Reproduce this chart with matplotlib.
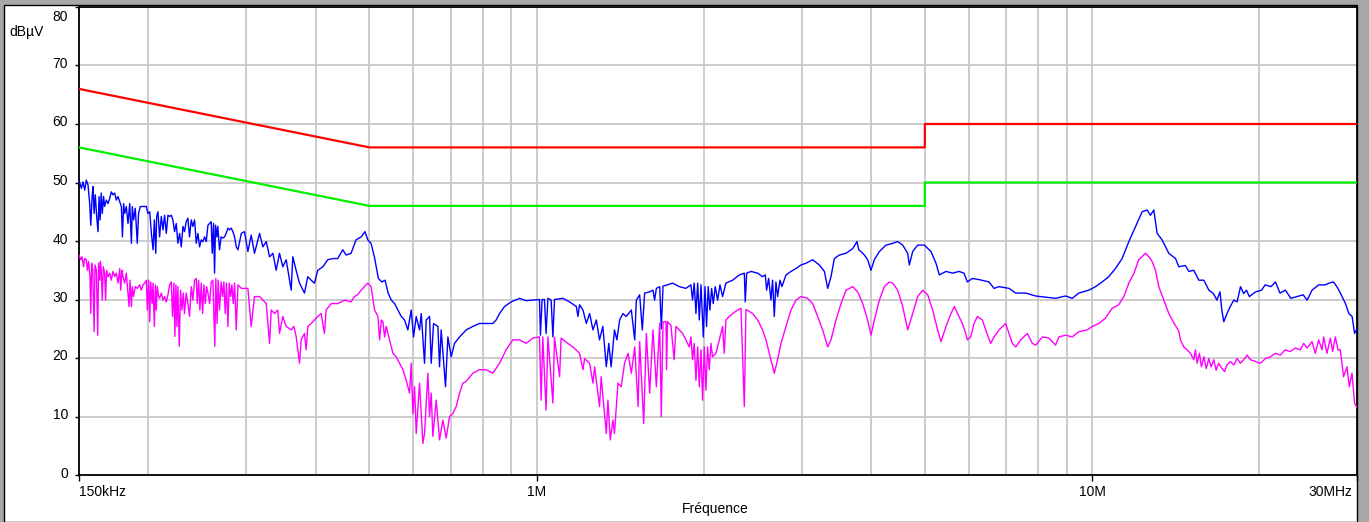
import matplotlib
matplotlib.use('Agg')
from matplotlib import pyplot as plt
import matplotlib.transforms as mtransforms
from matplotlib.patches import Rectangle

plt.rcParams['font.family'] = ['Liberation Sans', 'DejaVu Sans']
plt.rcParams['font.size'] = 10

# limit lines (MHz, dBuV)
lim_f = [0.15, 0.5, 5, 5, 30]
qp_lim = [66, 56, 56, 60, 60]
av_lim = [56, 46, 46, 50, 50]

# blue trace (MHz, dBuV)
blue_f = [0.1500, 0.1515, 0.1525, 0.1536, 0.1546, 0.1557, 0.1568, 0.1575, 0.1584, 0.1590,
          0.1597, 0.1605, 0.1614, 0.1623, 0.1630, 0.1637, 0.1645, 0.1652, 0.1661, 0.1668,
          0.1680, 0.1692, 0.1704, 0.1715, 0.1727, 0.1739, 0.1751, 0.1763, 0.1776, 0.1788,
          0.1796, 0.1805, 0.1813, 0.1825, 0.1838, 0.1851, 0.1864, 0.1871, 0.1881, 0.1894,
          0.1910, 0.1920, 0.1934, 0.1956, 0.1983, 0.1996, 0.2011, 0.2025, 0.2039, 0.2050,
          0.2062, 0.2070, 0.2081, 0.2095, 0.2110, 0.2125, 0.2139, 0.2154, 0.2169, 0.2184,
          0.2199, 0.2214, 0.2229, 0.2245, 0.2260, 0.2276, 0.2292, 0.2308, 0.2323, 0.2340,
          0.2356, 0.2372, 0.2389, 0.2405, 0.2422, 0.2439, 0.2456, 0.2473, 0.2490, 0.2507,
          0.2525, 0.2542, 0.2560, 0.2578, 0.2595, 0.2606, 0.2620, 0.2631, 0.2642, 0.2656,
          0.2667, 0.2686, 0.2704, 0.2723, 0.2742, 0.2761, 0.2781, 0.2800, 0.2820, 0.2839,
          0.2859, 0.2879, 0.2899, 0.2940, 0.2979, 0.3021, 0.3063, 0.3105, 0.3171, 0.3215,
          0.3260, 0.3305, 0.3351, 0.3397, 0.3444, 0.3492, 0.3541, 0.3615, 0.3640, 0.3690,
          0.3742, 0.3820, 0.3873, 0.3927, 0.3982, 0.4037, 0.4122, 0.4208, 0.4297, 0.4385,
          0.4477, 0.4540, 0.4634, 0.4730, 0.4831, 0.4909, 0.4966, 0.5034, 0.5104, 0.5190,
          0.5262, 0.5335, 0.5404, 0.5474, 0.5550, 0.5627, 0.5705, 0.5784, 0.5864, 0.5946,
          0.6004, 0.6071, 0.6155, 0.6198, 0.6284, 0.6328, 0.6416, 0.6460, 0.6523, 0.6641,
          0.6687, 0.6733, 0.6855, 0.6922, 0.7018, 0.7116, 0.7265, 0.7468, 0.7678, 0.7893,
          0.8114, 0.8341, 0.8457, 0.8575, 0.8754, 0.9000, 0.9315, 0.9576, 0.9845, 1.012,
          1.016, 1.023, 1.033, 1.040, 1.048, 1.062, 1.070, 1.077, 1.115, 1.146,
          1.179, 1.187, 1.195, 1.212, 1.229, 1.246, 1.263, 1.281, 1.298, 1.316,
          1.335, 1.349, 1.362, 1.381, 1.395, 1.411, 1.430, 1.450, 1.481, 1.502,
          1.512, 1.533, 1.550, 1.565, 1.598, 1.620, 1.631, 1.643, 1.666, 1.677,
          1.689, 1.720, 1.757, 1.807, 1.857, 1.896, 1.909, 1.922, 1.936, 1.950,
          1.963, 1.977, 1.996, 2.010, 2.023, 2.037, 2.051, 2.066, 2.080, 2.097,
          2.118, 2.139, 2.162, 2.192, 2.254, 2.317, 2.366, 2.375, 2.389, 2.432,
          2.500, 2.552, 2.581, 2.595, 2.617, 2.642, 2.660, 2.679, 2.697, 2.716,
          2.743, 2.765, 2.812, 2.871, 2.931, 2.992, 3.055, 3.141, 3.229, 3.297,
          3.343, 3.389, 3.436, 3.508, 3.607, 3.708, 3.775, 3.802, 3.838, 3.892,
          3.945, 4.000, 4.056, 4.141, 4.257, 4.377, 4.468, 4.562, 4.657, 4.689,
          4.755, 4.854, 4.990, 5.130, 5.237, 5.310, 5.459, 5.612, 5.763, 5.883,
          5.965, 6.090, 6.261, 6.525, 6.662, 6.801, 7.089, 7.288, 7.596, 7.917,
          8.252, 8.598, 8.962, 9.213, 9.471, 9.873, 10.15, 10.43, 10.72, 11.02,
          11.33, 11.65, 11.98, 12.31, 12.57, 12.74, 12.92, 13.10, 13.37, 13.75,
          14.14, 14.33, 14.73, 14.94, 15.25, 15.57, 15.90, 16.23, 16.55, 16.78,
          17.00, 17.13, 17.27, 17.50, 17.74, 18.00, 18.25, 18.51, 18.75, 18.97,
          19.20, 19.70, 20.20, 20.50, 21.00, 21.40, 21.80, 22.30, 22.80, 23.40,
          24.00, 24.40, 24.90, 25.60, 26.30, 26.70, 27.20, 27.60, 28.00, 28.60,
          29.00, 29.40, 29.70, 30.0]
blue_v = [50.4, 49.0, 50.1, 48.7, 50.4, 49.6, 46.4, 42.7, 47.6, 49.3,
          44.7, 47.9, 44.2, 41.6, 47.6, 43.6, 48.2, 44.7, 47.6, 45.9,
          47.0, 46.4, 47.3, 48.4, 47.9, 48.2, 47.0, 47.6, 46.7, 45.9,
          40.7, 46.4, 44.7, 45.9, 43.0, 46.4, 39.6, 45.9, 43.6, 45.6,
          39.6, 44.7, 45.9, 45.9, 45.9, 44.7, 45.0, 41.3, 38.5, 43.6,
          37.9, 44.2, 45.0, 40.7, 44.2, 41.9, 44.4, 41.3, 44.4, 44.2,
          44.4, 43.6, 41.6, 43.0, 39.6, 41.3, 39.0, 42.5, 41.6, 43.3,
          43.9, 40.7, 43.6, 42.5, 43.6, 39.6, 41.3, 39.0, 40.2, 39.9,
          40.7, 39.9, 42.7, 43.0, 43.3, 37.9, 43.0, 34.5, 42.7, 40.7,
          42.5, 38.5, 40.7, 40.5, 40.7, 41.3, 42.2, 41.9, 42.2, 41.6,
          40.7, 39.0, 38.5, 41.3, 41.6, 38.2, 41.0, 37.9, 41.3, 39.0,
          39.9, 37.3, 37.9, 35.0, 37.9, 35.6, 36.8, 31.6, 37.3, 35.0,
          32.8, 31.1, 33.9, 33.3, 32.8, 35.0, 35.6, 36.8, 37.0, 37.0,
          38.5, 37.6, 37.9, 40.2, 40.7, 41.6, 40.2, 39.6, 37.3, 33.6,
          33.0, 33.3, 31.1, 29.9, 29.3, 28.2, 27.1, 26.5, 24.8, 28.2,
          23.6, 27.1, 24.8, 27.6, 19.1, 26.5, 27.1, 19.1, 25.9, 25.4,
          18.5, 24.8, 15.1, 23.6, 20.2, 22.5, 23.6, 24.8, 25.4, 25.9,
          25.9, 25.9, 26.5, 27.6, 28.8, 29.6, 30.2, 29.8, 29.9, 30.0,
          23.9, 30.0, 30.0, 24.2, 30.2, 29.9, 23.6, 30.0, 30.2, 29.6,
          28.8, 27.1, 29.1, 28.2, 25.9, 27.6, 24.8, 26.5, 23.1, 25.4,
          18.5, 22.5, 18.5, 24.8, 23.1, 26.5, 27.6, 27.1, 28.2, 23.1,
          29.9, 30.8, 24.8, 31.1, 31.3, 31.6, 29.9, 31.9, 32.2, 25.0,
          32.3, 32.5, 32.8, 32.2, 31.9, 32.5, 29.9, 32.8, 27.6, 32.8,
          26.5, 32.5, 23.6, 32.2, 25.4, 32.2, 28.2, 31.9, 29.3, 32.2,
          29.9, 32.5, 30.5, 32.8, 33.3, 34.2, 34.5, 29.6, 34.5, 34.8,
          34.5, 33.9, 34.2, 31.6, 33.6, 29.9, 33.3, 27.1, 33.0, 30.5,
          33.3, 32.2, 34.2, 34.8, 35.3, 35.9, 36.2, 36.8, 35.9, 34.8,
          31.9, 33.9, 37.0, 37.6, 37.9, 38.7, 39.9, 38.5, 38.2, 37.6,
          36.8, 35.0, 36.8, 38.2, 39.3, 39.6, 39.9, 39.3, 37.9, 35.9,
          38.2, 39.3, 39.3, 38.2, 36.2, 34.2, 34.8, 34.5, 34.8, 34.5,
          33.0, 33.6, 33.4, 33.0, 31.9, 32.2, 31.9, 31.1, 31.1, 30.6,
          30.4, 30.2, 30.6, 30.2, 31.1, 31.6, 32.2, 33.0, 33.9, 35.3,
          37.0, 39.9, 42.5, 45.0, 45.3, 44.4, 45.3, 41.3, 40.2, 37.9,
          37.0, 35.6, 35.8, 34.8, 35.0, 33.3, 33.3, 31.6, 31.0, 29.9,
          31.3, 28.2, 26.2, 27.6, 28.8, 29.9, 29.6, 32.2, 31.0, 31.6,
          30.5, 31.3, 31.6, 32.5, 32.2, 33.0, 31.1, 31.6, 30.2, 30.5,
          30.8, 29.9, 31.6, 32.5, 32.5, 32.8, 33.0, 32.2, 31.1, 29.3,
          27.6, 27.1, 24.2, 25.0]

# magenta trace (MHz, dBuV)
pink_f = [0.1500, 0.1511, 0.1519, 0.1528, 0.1536, 0.1546, 0.1553, 0.1561, 0.1570, 0.1575,
          0.1581, 0.1588, 0.1597, 0.1603, 0.1612, 0.1621, 0.1627, 0.1635, 0.1639, 0.1645,
          0.1652, 0.1659, 0.1668, 0.1675, 0.1682, 0.1692, 0.1704, 0.1715, 0.1727, 0.1739,
          0.1751, 0.1763, 0.1776, 0.1783, 0.1793, 0.1800, 0.1813, 0.1825, 0.1838, 0.1846,
          0.1853, 0.1864, 0.1871, 0.1881, 0.1894, 0.1910, 0.1929, 0.1942, 0.1956, 0.1969,
          0.1983, 0.1991, 0.2002, 0.2011, 0.2019, 0.2031, 0.2039, 0.2050, 0.2059, 0.2067,
          0.2075, 0.2087, 0.2095, 0.2110, 0.2125, 0.2139, 0.2154, 0.2169, 0.2184, 0.2199,
          0.2211, 0.2223, 0.2232, 0.2242, 0.2251, 0.2260, 0.2273, 0.2285, 0.2298, 0.2311,
          0.2323, 0.2340, 0.2356, 0.2372, 0.2389, 0.2405, 0.2422, 0.2439, 0.2449, 0.2463,
          0.2476, 0.2490, 0.2504, 0.2518, 0.2532, 0.2546, 0.2560, 0.2578, 0.2595, 0.2613,
          0.2623, 0.2634, 0.2645, 0.2659, 0.2670, 0.2686, 0.2704, 0.2720, 0.2735, 0.2750,
          0.2765, 0.2781, 0.2796, 0.2812, 0.2827, 0.2843, 0.2859, 0.2879, 0.2899, 0.2940,
          0.3021, 0.3063, 0.3105, 0.3171, 0.3215, 0.3260, 0.3305, 0.3328, 0.3374, 0.3420,
          0.3444, 0.3492, 0.3541, 0.3615, 0.3655, 0.3690, 0.3742, 0.3768, 0.3820, 0.3847,
          0.3873, 0.3927, 0.3982, 0.4037, 0.4093, 0.4150, 0.4179, 0.4267, 0.4385, 0.4446,
          0.4508, 0.4634, 0.4698, 0.4764, 0.4831, 0.4898, 0.4966, 0.5034, 0.5109, 0.5180,
          0.5216, 0.5252, 0.5288, 0.5325, 0.5362, 0.5399, 0.5474, 0.5512, 0.5588, 0.5666,
          0.5745, 0.5824, 0.5905, 0.5946, 0.5987, 0.6029, 0.6071, 0.6155, 0.6241, 0.6284,
          0.6372, 0.6416, 0.6460, 0.6505, 0.6595, 0.6687, 0.6780, 0.6874, 0.6970, 0.7067,
          0.7165, 0.7265, 0.7366, 0.7468, 0.7678, 0.7893, 0.8114, 0.8341, 0.8575, 0.8815,
          0.9062, 0.9315, 0.9576, 0.9845, 1.012, 1.019, 1.026, 1.040, 1.048, 1.070,
          1.077, 1.100, 1.107, 1.138, 1.162, 1.195, 1.212, 1.220, 1.246, 1.263,
          1.272, 1.298, 1.307, 1.335, 1.344, 1.357, 1.372, 1.381, 1.401, 1.420,
          1.440, 1.461, 1.481, 1.502, 1.523, 1.533, 1.559, 1.576, 1.598, 1.620,
          1.643, 1.666, 1.677, 1.689, 1.710, 1.714, 1.721, 1.745, 1.769, 1.782,
          1.807, 1.832, 1.857, 1.883, 1.896, 1.909, 1.922, 1.936, 1.950, 1.963,
          1.977, 1.990, 2.004, 2.018, 2.032, 2.046, 2.060, 2.074, 2.103, 2.133,
          2.162, 2.177, 2.192, 2.223, 2.254, 2.301, 2.333, 2.366, 2.382, 2.449,
          2.500, 2.552, 2.588, 2.624, 2.679, 2.716, 2.754, 2.812, 2.871, 2.931,
          2.992, 3.076, 3.141, 3.207, 3.274, 3.343, 3.389, 3.460, 3.533, 3.607,
          3.708, 3.785, 3.865, 3.945, 4.000, 4.056, 4.141, 4.228, 4.316, 4.377,
          4.468, 4.562, 4.657, 4.755, 4.854, 4.956, 5.060, 5.166, 5.273, 5.347,
          5.459, 5.573, 5.651, 5.761, 5.843, 5.924, 5.965, 6.048, 6.132, 6.218,
          6.347, 6.435, 6.570, 6.662, 6.801, 6.990, 7.089, 7.187, 7.288, 7.440,
          7.648, 7.808, 7.917, 8.139, 8.367, 8.598, 8.718, 8.962, 9.213, 9.471,
          9.804, 10.01, 10.29, 10.57, 10.87, 11.17, 11.41, 11.65, 11.90, 12.14,
          12.48, 12.66, 12.83, 13.01, 13.19, 13.47, 13.75, 14.04, 14.33, 14.43,
          14.63, 14.83, 15.04, 15.25, 15.35, 15.46, 15.61, 15.74, 15.90, 16.06,
          16.23, 16.39, 16.57, 16.73, 16.90, 17.14, 17.33, 17.49, 17.75, 18.00,
          18.25, 18.50, 18.76, 19.02, 19.29, 19.70, 20.10, 20.52, 20.95, 21.39,
          21.83, 22.28, 22.74, 23.24, 23.72, 24.05, 24.39, 24.90, 25.24, 25.59,
          25.95, 26.13, 26.49, 26.86, 27.12, 27.42, 27.73, 27.99, 28.38, 28.78,
          29.06, 29.38, 29.70, 30.0]
pink_v = [37.6, 36.8, 37.3, 35.6, 37.0, 36.8, 35.0, 36.5, 33.9, 27.6,
          36.2, 35.0, 24.5, 35.9, 35.0, 23.9, 36.2, 33.3, 36.5, 35.0,
          29.9, 35.6, 34.5, 29.9, 35.0, 33.9, 34.5, 33.3, 34.8, 33.9,
          34.5, 32.8, 35.3, 31.6, 35.0, 33.9, 32.8, 34.5, 31.1, 28.8,
          33.3, 28.8, 32.2, 30.5, 32.2, 31.9, 32.5, 31.6, 32.5, 32.8,
          33.3, 28.2, 33.3, 26.2, 33.0, 29.3, 32.8, 25.4, 32.5, 28.2,
          32.2, 30.5, 30.2, 31.1, 29.9, 30.5, 29.6, 30.8, 32.5, 33.0,
          27.1, 32.8, 23.7, 32.5, 25.4, 32.2, 22.0, 31.6, 28.2, 31.1,
          27.6, 31.1, 29.3, 27.1, 32.2, 29.9, 33.3, 33.6, 29.3, 33.3,
          28.2, 32.8, 27.6, 32.5, 29.3, 32.2, 31.1, 29.3, 33.0, 33.3,
          28.2, 22.0, 33.6, 25.9, 33.3, 28.2, 33.0, 30.5, 33.0, 27.6,
          32.8, 25.4, 32.8, 30.5, 32.5, 29.3, 32.8, 24.8, 32.5, 31.9,
          31.9, 25.4, 30.5, 30.5, 29.9, 29.3, 22.5, 28.2, 27.6, 28.2,
          24.2, 27.1, 25.4, 24.8, 25.4, 23.7, 19.1, 23.1, 24.2, 21.4,
          25.4, 25.9, 26.5, 27.1, 27.6, 24.2, 28.2, 29.3, 29.3, 29.6,
          29.9, 29.6, 30.5, 30.8, 31.6, 32.2, 32.8, 32.2, 28.2, 27.1,
          23.1, 26.5, 26.2, 23.6, 25.4, 24.2, 21.9, 20.8, 20.2, 19.1,
          18.0, 16.2, 14.0, 19.1, 10.5, 15.1, 7.1, 15.7, 5.4, 7.1,
          17.4, 10.0, 14.0, 6.6, 12.8, 6.0, 9.4, 6.3, 10.0, 10.5,
          11.7, 14.0, 15.7, 16.0, 17.4, 18.0, 18.0, 17.4, 19.1, 21.4,
          23.1, 23.1, 22.5, 23.4, 23.6, 12.8, 23.6, 11.1, 23.6, 12.3,
          23.5, 16.8, 23.4, 22.5, 21.9, 20.8, 18.0, 19.9, 19.1, 15.7,
          18.5, 11.7, 16.8, 7.1, 12.8, 6.0, 9.4, 7.1, 15.7, 15.1,
          19.1, 20.8, 17.4, 21.9, 11.7, 22.8, 8.8, 24.2, 14.0, 24.8,
          15.1, 25.9, 10.0, 26.2, 26.2, 18.0, 26.2, 25.6, 19.7, 25.4,
          24.8, 24.2, 23.1, 21.9, 23.6, 19.7, 22.5, 16.2, 21.9, 15.1,
          21.4, 12.8, 21.9, 14.5, 21.9, 18.0, 22.5, 20.2, 20.8, 23.1,
          25.4, 20.8, 26.5, 27.1, 27.6, 28.2, 28.5, 11.7, 28.3, 27.6,
          26.5, 24.8, 23.1, 20.8, 17.4, 19.7, 22.5, 25.4, 28.2, 29.9,
          30.5, 30.2, 29.3, 27.1, 24.8, 21.9, 23.1, 26.5, 29.3, 31.6,
          32.2, 31.3, 29.3, 26.5, 23.9, 26.5, 29.9, 32.2, 33.0, 32.8,
          31.6, 28.8, 24.8, 27.6, 30.5, 31.6, 30.8, 28.2, 24.8, 22.8,
          25.4, 27.6, 28.8, 27.1, 25.9, 24.2, 23.1, 23.6, 25.9, 27.1,
          26.5, 24.8, 22.5, 23.6, 24.8, 25.9, 24.2, 22.5, 21.9, 23.1,
          24.2, 22.5, 22.2, 23.6, 23.4, 22.2, 23.6, 23.9, 23.6, 24.5,
          24.8, 25.4, 25.9, 26.8, 28.5, 29.1, 30.5, 32.8, 34.5, 36.8,
          37.9, 37.3, 36.5, 35.0, 32.2, 29.9, 27.6, 26.0, 24.6, 23.1,
          21.9, 21.4, 20.8, 19.7, 21.4, 19.1, 20.8, 18.5, 20.2, 18.2,
          19.9, 18.5, 19.7, 17.9, 19.1, 18.2, 17.7, 18.8, 19.4, 18.8,
          19.9, 19.1, 19.7, 20.5, 19.7, 19.4, 19.1, 19.9, 20.2, 20.8,
          20.5, 21.4, 21.1, 21.7, 21.4, 22.5, 21.7, 22.8, 20.8, 23.1,
          21.4, 23.6, 20.8, 23.4, 21.1, 23.6, 21.4, 21.4, 16.8, 18.5,
          15.1, 17.4, 12.3, 11.5]

y_ticks = [0, 10, 20, 30, 40, 50, 60, 70, 80]
x_ticks = [0.15, 1, 10, 30]
x_labels = ['150kHz', '1M', '10M', '30MHz']
x_minor = [0.2, 0.3, 0.4, 0.5, 0.6, 0.7, 0.8, 0.9, 2, 3, 4, 5, 6, 7, 8, 9, 20]

W, H = 1369, 522
fig = plt.figure(figsize=(W / 100, H / 100), dpi=100, facecolor='#a8a8a8')
# white panel with black top/left border, behind the axes
fig.patches.append(Rectangle((4 / W, 0), (1357 - 4) / W, (H - 5) / H, transform=fig.transFigure,
                             facecolor='white', edgecolor='black', linewidth=1, zorder=-10))

ax = fig.add_axes([79 / W, (H - 475) / H, (1357 - 79) / W, (475 - 7) / H])
ax.set_zorder(1)
ax.set_xscale('log')
ax.set_xlim(0.15, 30)
ax.set_ylim(0, 80)

ax.set_xticks(x_minor, minor=True)
ax.set_xticks(x_ticks)
ax.set_xticklabels(x_labels)
ax.set_yticks(y_ticks)
ax.tick_params(axis='x', which='minor', length=0, labelbottom=False)
ax.tick_params(axis='x', which='major', length=4, width=1, pad=3, direction='out')
ax.tick_params(axis='y', length=3, width=1, pad=5, direction='out')
ax.grid(True, which='both', axis='x', color='#c8c8c8', linewidth=1.3, zorder=0)
ax.grid(True, which='major', axis='y', color='#c8c8c8', linewidth=1.3, zorder=0)
ax.set_axisbelow(True)
for s in ax.spines.values():
    s.set_linewidth(1.3)

xl = ax.get_xticklabels()
xl[0].set_ha('left')
xl[-1].set_ha('right')
xl[-1].set_transform(xl[-1].get_transform() + mtransforms.ScaledTranslation(-5 / 100, 0, fig.dpi_scale_trans))

up = mtransforms.ScaledTranslation(0, 3 / 100, fig.dpi_scale_trans)
for lab in ax.get_yticklabels():
    lab.set_transform(lab.get_transform() + up)
top_lab = ax.get_yticklabels()[-1]
top_lab.set_va('top')
top_lab.set_transform(top_lab.get_transform() + mtransforms.ScaledTranslation(0, -6 / 100, fig.dpi_scale_trans))

ax.plot(lim_f, qp_lim, color='#ff0000', linewidth=1.6, zorder=3)
ax.plot(lim_f, av_lim, color='#00ee00', linewidth=1.6, zorder=3)
ax.plot(blue_f, blue_v, color='#0000ff', linewidth=1.0, zorder=4)
ax.plot(pink_f, pink_v, color='#ff00ff', linewidth=1.0, zorder=4)

fig.text(9 / W, 1 - 32 / H, 'dBµV', ha='left', va='center')
fig.text(715 / W, 1 - 509 / H, 'Fréquence', ha='center', va='center')

fig.savefig('out.png', dpi=100, facecolor=fig.get_facecolor())
